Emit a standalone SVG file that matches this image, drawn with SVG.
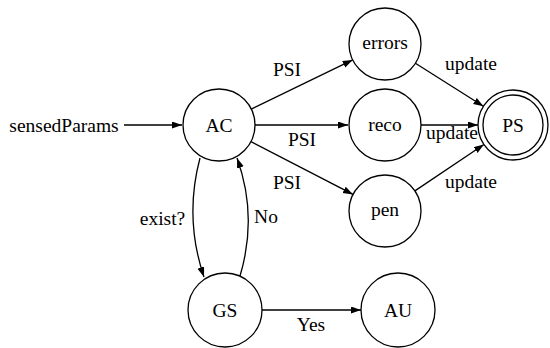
<svg xmlns="http://www.w3.org/2000/svg" width="550" height="348" viewBox="0 0 550 348">
<style>
  .node circle { fill: #ffffff; stroke: #000000; stroke-width: 1.3; }
  .lbl { font-size: 19.5px; fill: #000000; text-anchor: middle; }
  .edge { fill: none; stroke: #000000; stroke-width: 1.3; marker-end: url(#arrow); }
</style>
<defs>
  <marker id="arrow" markerUnits="userSpaceOnUse" markerWidth="11" markerHeight="8" refX="10" refY="3.5" orient="auto">
    <path d="M0,0 L10,3.5 L0,7 z" fill="#000000"/>
  </marker>
</defs>
<rect width="550" height="348" fill="#ffffff"/>
<g font-family="Liberation Serif, Tinos, Times New Roman, DejaVu Serif, serif">
<g id="connectors">
  <line class="edge" x1="124" y1="125" x2="182" y2="125"/>
  <line class="edge" x1="251.3" y1="109.1" x2="352.7" y2="59.9"/>
  <line class="edge" x1="255" y1="125" x2="348" y2="125"/>
  <line class="edge" x1="251" y1="141.6" x2="353" y2="194.4"/>
  <line class="edge" x1="415.4" y1="63.3" x2="483.4" y2="106.3"/>
  <line class="edge" x1="421" y1="125" x2="478" y2="125"/>
  <line class="edge" x1="414.9" y1="190.9" x2="483.9" y2="144.5"/>
  <path class="edge" d="M200,158 Q184,218 204,277"/>
  <path class="edge" d="M240,276 Q258,216 237,158"/>
  <line class="edge" x1="262" y1="310" x2="361" y2="310"/>
  <text class="lbl" x="287" y="76">PSI</text>
  <text class="lbl" x="302" y="146">PSI</text>
  <text class="lbl" x="287" y="189">PSI</text>
  <text class="lbl" x="471" y="70">update</text>
  <text class="lbl" x="452" y="139">update</text>
  <text class="lbl" x="471" y="188">update</text>
  <text class="lbl" x="162.5" y="225">exist?</text>
  <text class="lbl" x="266" y="223">No</text>
  <text class="lbl" x="311" y="331">Yes</text>
</g>

<g id="sensedParams">
  <text class="lbl" x="64" y="132">sensedParams</text>
</g>
<g id="AC" class="node">
  <circle cx="219" cy="125" r="36"/>
  <text class="lbl" x="219" y="132">AC</text>
</g>
<g id="errors" class="node">
  <circle cx="385" cy="44" r="36"/>
  <text class="lbl" x="385" y="49">errors</text>
</g>
<g id="reco" class="node">
  <circle cx="385" cy="125" r="36"/>
  <text class="lbl" x="385" y="131">reco</text>
</g>
<g id="pen" class="node">
  <circle cx="385" cy="211" r="36"/>
  <text class="lbl" x="385" y="216">pen</text>
</g>
<g id="PS" class="node">
  <circle cx="513" cy="125" r="35"/>
  <circle cx="513" cy="125" r="30"/>
  <text class="lbl" x="513" y="132">PS</text>
</g>
<g id="GS" class="node">
  <circle cx="225" cy="310" r="37"/>
  <text class="lbl" x="225" y="317">GS</text>
</g>
<g id="AU" class="node">
  <circle cx="398" cy="310" r="37"/>
  <text class="lbl" x="398" y="317">AU</text>
</g>
</g>
</svg>
